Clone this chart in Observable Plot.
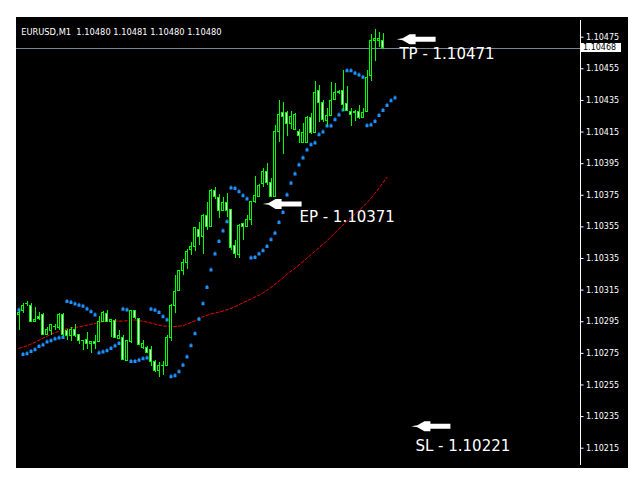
<!DOCTYPE html>
<html><head><meta charset="utf-8">
<script src="https://cdn.jsdelivr.net/npm/d3@7"></script>
<script src="https://cdn.jsdelivr.net/npm/@observablehq/plot@0.6"></script>
<style>
html,body{margin:0;padding:0;background:#fff;}
#wrap{position:absolute;left:16px;top:17px;width:612px;height:451px;background:#000;overflow:hidden;}
#wrap svg{display:block;}
#wrap svg text{white-space:pre;}
#wrap svg rect,#wrap svg line{shape-rendering:crispEdges;}
#tag{position:absolute;left:565px;width:38px;height:9px;background:#fff;color:#000;font:8px "DejaVu Sans";line-height:9px;padding-left:2px;}
</style></head>
<body><div id="wrap"></div>
<script>
const header = "EURUSD,M1  1.10480 1.10481 1.10480 1.10480";
const lastPrice = 1.10468;
const yTicks = [1.10215, 1.10235, 1.10255, 1.10275, 1.10295, 1.10315, 1.10335, 1.10355, 1.10375, 1.10395, 1.10415, 1.10435, 1.10455, 1.10475];

const opens = [1.102992, 1.103015, 1.103060, 1.103051, 1.102946, 1.102982, 1.102992, 1.102866, 1.102893, 1.102918,
1.102908, 1.102992, 1.102889, 1.102857, 1.102899, 1.102866, 1.102825, 1.102834, 1.102809, 1.102823,
1.102819, 1.102946, 1.103001, 1.102946, 1.102956, 1.102841, 1.102847, 1.102703, 1.102819, 1.103018,
1.102967, 1.102781, 1.102781, 1.102771, 1.102697, 1.102636, 1.102672, 1.102667, 1.102847, 1.103051,
1.103146, 1.103268, 1.103319, 1.103404, 1.103420, 1.103530, 1.103483, 1.103621, 1.103551, 1.103779,
1.103733, 1.103648, 1.103701, 1.103657, 1.103431, 1.103372, 1.103568, 1.103547, 1.103593, 1.103705,
1.103741, 1.103821, 1.103899, 1.103827, 1.103741, 1.104148, 1.104270, 1.104270, 1.104204, 1.104163,
1.104148, 1.104078, 1.104078, 1.104239, 1.104141, 1.104411, 1.104334, 1.104222, 1.104253, 1.104354,
1.104399, 1.104411, 1.104327, 1.104278, 1.104272, 1.104278, 1.104236, 1.104278, 1.104502, 1.104728,
1.104723, 1.104728];
const highs = [1.103015, 1.103064, 1.103078, 1.103066, 1.103040, 1.103009, 1.102999, 1.102914, 1.102935, 1.102935,
1.102999, 1.102999, 1.102904, 1.102914, 1.102935, 1.102872, 1.102830, 1.102882, 1.102827, 1.102861,
1.102982, 1.103013, 1.103024, 1.102963, 1.102961, 1.102897, 1.102861, 1.102830, 1.103024, 1.103024,
1.102971, 1.102834, 1.102794, 1.102792, 1.102703, 1.102689, 1.102697, 1.102861, 1.103062, 1.103241,
1.103276, 1.103342, 1.103405, 1.103452, 1.103547, 1.103578, 1.103631, 1.103705, 1.103785, 1.103800,
1.103758, 1.103736, 1.103762, 1.103659, 1.103462, 1.103568, 1.103570, 1.103621, 1.103711, 1.103867,
1.103815, 1.103922, 1.103951, 1.103859, 1.104190, 1.104348, 1.104337, 1.104278, 1.104278, 1.104268,
1.104163, 1.104201, 1.104247, 1.104266, 1.104468, 1.104447, 1.104348, 1.104299, 1.104464, 1.104460,
1.104411, 1.104538, 1.104437, 1.104296, 1.104289, 1.104316, 1.104296, 1.104538, 1.104764, 1.104797,
1.104780, 1.104776];
const lows = [1.102893, 1.103001, 1.103045, 1.102944, 1.102944, 1.102956, 1.102861, 1.102861, 1.102866, 1.102893,
1.102893, 1.102855, 1.102834, 1.102823, 1.102851, 1.102809, 1.102767, 1.102777, 1.102750, 1.102777,
1.102817, 1.102944, 1.102944, 1.102851, 1.102841, 1.102839, 1.102703, 1.102700, 1.102811, 1.102967,
1.102798, 1.102777, 1.102746, 1.102665, 1.102629, 1.102598, 1.102608, 1.102665, 1.102825, 1.103003,
1.103143, 1.103241, 1.103283, 1.103368, 1.103393, 1.103431, 1.103374, 1.103526, 1.103547, 1.103726,
1.103603, 1.103646, 1.103610, 1.103399, 1.103353, 1.103350, 1.103462, 1.103545, 1.103557, 1.103701,
1.103738, 1.103800, 1.103810, 1.103739, 1.103739, 1.104084, 1.104006, 1.104120, 1.104163, 1.104158,
1.104078, 1.104076, 1.104076, 1.104136, 1.104139, 1.104211, 1.104211, 1.104184, 1.104247, 1.104348,
1.104390, 1.104278, 1.104282, 1.104186, 1.104215, 1.104232, 1.104234, 1.104275, 1.104468, 1.104595,
1.104685, 1.104675];
const closes = [1.103005, 1.103051, 1.103062, 1.102946, 1.102963, 1.102967, 1.102866, 1.102897, 1.102931, 1.102914,
1.102994, 1.102866, 1.102861, 1.102899, 1.102857, 1.102825, 1.102827, 1.102809, 1.102823, 1.102811,
1.102950, 1.103005, 1.102946, 1.102961, 1.102847, 1.102861, 1.102708, 1.102825, 1.103020, 1.102971,
1.102803, 1.102809, 1.102750, 1.102697, 1.102636, 1.102672, 1.102670, 1.102847, 1.103051, 1.103140,
1.103273, 1.103321, 1.103388, 1.103420, 1.103543, 1.103488, 1.103621, 1.103551, 1.103779, 1.103736,
1.103648, 1.103701, 1.103648, 1.103414, 1.103378, 1.103557, 1.103551, 1.103593, 1.103705, 1.103747,
1.103810, 1.103899, 1.103825, 1.103741, 1.104148, 1.104260, 1.104247, 1.104204, 1.104247, 1.104260,
1.104127, 1.104141, 1.104239, 1.104141, 1.104397, 1.104331, 1.104226, 1.104249, 1.104348, 1.104397,
1.104401, 1.104321, 1.104285, 1.104258, 1.104274, 1.104236, 1.104270, 1.104495, 1.104728, 1.104738,
1.104738, 1.104680];
const psar = [1.103024, 1.102743, 1.102748, 1.102762, 1.102773, 1.102794, 1.102803, 1.102822, 1.102830, 1.102841,
1.102847, 1.102851, 1.103078, 1.103072, 1.103062, 1.103054, 1.103048, 1.103030, 1.103013, 1.102992,
1.102752, 1.102758, 1.102767, 1.102781, 1.102796, 1.102813, 1.103029, 1.103024, 1.102699, 1.102699,
1.102706, 1.102716, 1.102720, 1.103029, 1.103023, 1.103009, 1.102982, 1.102961, 1.102602, 1.102608,
1.102634, 1.102674, 1.102727, 1.102798, 1.102874, 1.102965, 1.103064, 1.103167, 1.103277, 1.103378,
1.103458, 1.103524, 1.103583, 1.103796, 1.103793, 1.103772, 1.103747, 1.103726, 1.103353, 1.103357,
1.103378, 1.103399, 1.103426, 1.103469, 1.103509, 1.103578, 1.103641, 1.103752, 1.103826, 1.103884,
1.103941, 1.103986, 1.104036, 1.104070, 1.104080, 1.104133, 1.104150, 1.104188, 1.104188, 1.104228,
1.104258, 1.104289, 1.104538, 1.104538, 1.104522, 1.104511, 1.104497, 1.104190, 1.104194, 1.104217,
1.104255, 1.104287, 1.104318, 1.104348, 1.104365];
const ma = [1.102782, 1.102789, 1.102798, 1.102809, 1.102820, 1.102833, 1.102846, 1.102858, 1.102871, 1.102880,
1.102890, 1.102897, 1.102906, 1.102912, 1.102915, 1.102916, 1.102923, 1.102928, 1.102934, 1.102939,
1.102946, 1.102950, 1.102952, 1.102954, 1.102954, 1.102954, 1.102954, 1.102956, 1.102959, 1.102961,
1.102958, 1.102952, 1.102948, 1.102942, 1.102935, 1.102929, 1.102923, 1.102922, 1.102920, 1.102920,
1.102922, 1.102925, 1.102935, 1.102946, 1.102956, 1.102972, 1.102982, 1.102991, 1.102999, 1.103005,
1.103011, 1.103018, 1.103026, 1.103035, 1.103045, 1.103058, 1.103070, 1.103083, 1.103094, 1.103106,
1.103118, 1.103132, 1.103149, 1.103168, 1.103187, 1.103206, 1.103228, 1.103250, 1.103270, 1.103288,
1.103309, 1.103330, 1.103352, 1.103374, 1.103396, 1.103418, 1.103440, 1.103462, 1.103488, 1.103513,
1.103538, 1.103562, 1.103586, 1.103608, 1.103631, 1.103654, 1.103677, 1.103703, 1.103731, 1.103763,
1.103795, 1.103829, 1.103864];

const labelTexts = ["TP - 1.10471", "EP - 1.10371", "SL - 1.10221"];
const labelBars = [95.1, 70.1, 99.1];
const labelPrices = [1.104642, 1.103609, 1.102162];
const arrowBars = [94.4, 60.9, 98.1];
const arrowPrices = [1.104737, 1.103695, 1.102289];

const candles = opens.map((o, i) => ({i, o, h: highs[i], l: lows[i], c: closes[i]}));
const sarRows = psar.map((v, i) => ({i, v}));
const maRows = ma.map((v, i) => ({i, v}));
const labels = labelTexts.map((t, k) => ({t, i: labelBars[k], p: labelPrices[k]}));
const arrows = arrowBars.map((i, k) => ({i, p: arrowPrices[k]}));

const bullet = {draw(ctx) { ctx.rect(-1.5, -1.5, 3, 3); ctx.rect(-0.5, -2.5, 1, 1); }};
const arrowSym = {draw(ctx) {
  const pts = [[0,0],[6,-0.9],[13,-5],[19,-5],[19,-2.5],[39,-2.5],[39,2.5],[19,2.5],[19,5],[13,5],[6,0.9]];
  ctx.moveTo(pts[0][0], pts[0][1]);
  for (const [a, b] of pts.slice(1)) ctx.lineTo(a, b);
  ctx.closePath();
}};

const chart = Plot.plot({
  width: 612, height: 451,
  marginTop: 3, marginBottom: 4, marginLeft: 0, marginRight: 48.5,
  x: {domain: [-0.625, 140.25], axis: null},
  y: {domain: [1.1020469, 1.1048556]},
  style: {background: "transparent", color: "white", fontFamily: "DejaVu Sans", fontSize: "8px"},
  marks: [
    Plot.ruleY([lastPrice], {stroke: "#778899"}),
    Plot.line(maRows, {x: "i", y: "v", stroke: "#f00000", strokeWidth: 1, strokeDasharray: "3,2"}),
    Plot.dot(sarRows, {x: "i", y: "v", symbol: bullet, fill: "#1e90ff", r: 2}),
    Plot.ruleX(candles, {x: "i", y1: "l", y2: "h", stroke: "#00ff00"}),
    Plot.rect(candles.filter(d => d.c > d.o), {x1: d => d.i - 0.25, x2: d => d.i + 0.25, y1: "o", y2: "c", fill: "black", stroke: "#00ff00"}),
    Plot.rect(candles.filter(d => d.c <= d.o), {x1: d => d.i - 0.25, x2: d => d.i + 0.25, y1: "o", y2: "c", fill: "white", stroke: "#00ff00"}),
    Plot.dot(arrows, {x: "i", y: "p", symbol: arrowSym, fill: "white", r: 5}),
    Plot.text(labels, {x: "i", y: "p", text: "t", textAnchor: "start", fill: "white", fontSize: 15, fontFamily: "DejaVu Sans"}),
    Plot.text([header], {frameAnchor: "top-left", dx: 4.7, dy: 9, fill: "white", fontSize: 8.3}),
    Plot.frame({anchor: "right", stroke: "white"}),
    Plot.axisY(yTicks, {anchor: "right", tickSize: 3, tickPadding: 3, tickFormat: d3.format(".5f"), label: null, fill: "white", stroke: "white"})
  ]
});
const wrap = document.getElementById("wrap");
wrap.appendChild(chart);
const tag = document.createElement("div");
tag.id = "tag";
tag.textContent = d3.format(".5f")(lastPrice);
tag.style.top = (chart.scale("y").apply(lastPrice) - 4.5) + "px";
wrap.appendChild(tag);
</script>
</body></html>
